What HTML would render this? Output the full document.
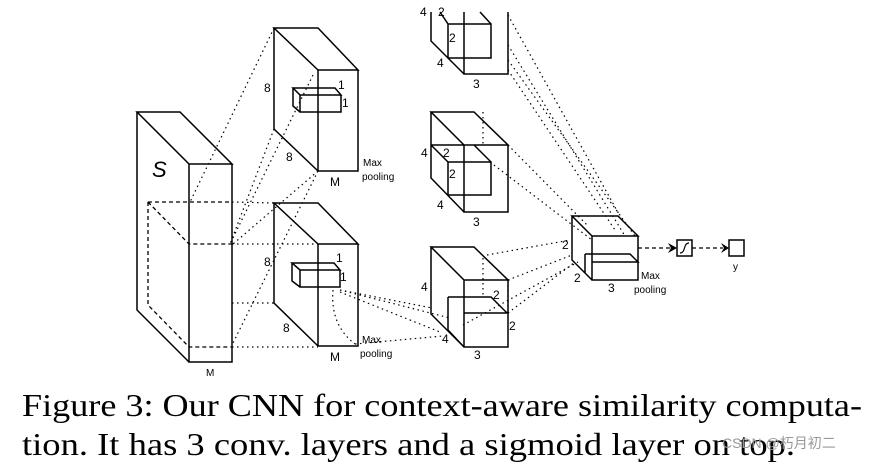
<!DOCTYPE html>
<html><head><meta charset="utf-8"><style>
html,body{margin:0;padding:0;background:#fff;width:876px;height:464px;overflow:hidden}
svg{display:block}
.s{fill:none;stroke:#000;stroke-width:1.5}
.d{fill:none;stroke:#000;stroke-width:1.2;stroke-dasharray:1.5 3.5}
.dash{fill:none;stroke:#000;stroke-width:1.3;stroke-dasharray:4 3}
text{font-family:"Liberation Sans",sans-serif;font-size:12px;fill:#000}
.sm{font-size:10px}
.cap{font-family:"Liberation Serif",serif;font-size:32px}
</style></head><body>
<svg width="876" height="464" viewBox="0 0 876 464">
<path class="s" d="M137,112 L180,112 L232,164 L189,164 Z M137,112 L137,310 L189,362 M189,164 L189,362 L232,362 L232,164"/>
<path class="dash" d="M148,202 L230,202 M148,202 L189,244 L232,244 M148,202 L148,305 L189,347 L232,347"/>
<text x="152" y="177" style="font-size:22px;font-style:italic">S</text>
<text x="206" y="376" class="sm">M</text>
<path class="d" d="M274,28 L190,202 M274,129 L230,244 M318,171 L233,244 M313,75 L230,244 M318,171 L233,343 M232,202 L274,203 M232,244 L318,244 M232,303 L274,303 M232,347 L318,347"/>
<path class="s" d="M274,28 L318,28 L358,70 L318,70 Z M274,28 L274,129 L318,171 M318,70 L318,171 L358,171 L358,70"/>
<path class="s" d="M293,88 L335,88 L341,95 L300,95 Z M293,88 L293,106 L300,112 M300,95 L300,112 L341,112 L341,95"/>
<text x="264" y="92">8</text><text x="338" y="89">1</text><text x="342" y="107">1</text>
<text x="286" y="161">8</text><text x="330" y="186">M</text>
<text x="363" y="166" class="sm">Max</text><text x="362" y="180" class="sm">pooling</text>
<path class="s" d="M274,203 L318,203 L358,244 L318,244 Z M274,203 L274,303 L318,346 M318,244 L318,346 L358,346 L358,244"/>
<path class="s" d="M292,263 L334,263 L340,270 L300,270 Z M292,263 L292,281 L300,287 M300,270 L300,287 L340,287 L340,270"/>
<text x="264" y="266">8</text><text x="336" y="262">1</text><text x="340" y="281">1</text>
<text x="283" y="332">8</text><text x="330" y="361">M</text>
<text x="362" y="343" class="sm">Max</text><text x="360" y="357" class="sm">pooling</text>
<path class="d" d="M340,290 L450,318 M340,292 L440,332 M355,344 L443,336 M333,290 Q330,325 355,344 M340,290 L432,308"/>
<path class="s" d="M431,12 L431,41 L464,74 M464,12 L464,74 L508,74 L508,12 M448,24 L491,24 L491,58 L448,58 Z M448,24 L440,12 M491,24 L480,12"/>
<text x="420" y="16">4</text><text x="438" y="16">2</text><text x="449" y="42">2</text><text x="437" y="67">4</text><text x="473" y="88">3</text>
<path class="s" d="M431,112 L474,112 L508,145 L464,145 Z M431,112 L431,178 L464,212 M464,145 L464,212 L508,212 L508,145 M431,145 L464,145 M431,145 L448,162 L491,162 L491,195 L448,195 L448,162 M474,145 L491,162"/>
<path class="d" d="M483,112 L483,145"/>
<text x="421" y="157">4</text><text x="443" y="157">2</text><text x="449" y="178">2</text><text x="437" y="209">4</text><text x="473" y="226">3</text>
<path class="s" d="M431,247 L474,247 L508,280 L464,280 Z M431,247 L431,314 L464,347 M464,280 L464,347 L508,347 L508,280 M448,297 L491,297 L507,313 L464,313 M448,297 L448,330 L464,347"/>
<path class="d" d="M483,258 L483,297 M508,280 L508,313"/>
<text x="421" y="291">4</text><text x="493" y="299">2</text><text x="509" y="330">2</text><text x="442" y="343">4</text><text x="474" y="359">3</text>
<path class="d" d="M508,15 L620,216 M508,45 L625,236 M508,60 L635,236 M508,70 L615,230 M508,145 L588,226 M490,162 L592,240 M487,255 L570,240 M508,280 L572,255 M508,313 L575,262 M463,325 L578,262"/>
<path class="s" d="M572,216 L618,216 L638,236 L592,236 Z M572,216 L572,260 L592,280 M592,236 L592,280 L638,280 L638,236 M585,254 L630,254 L638,262 L592,262 M585,254 L585,273 L592,280"/>
<text x="562" y="249">2</text><text x="574" y="282">2</text><text x="608" y="292">3</text>
<text x="641" y="279" class="sm">Max</text><text x="634" y="293" class="sm">pooling</text>
<path class="dash" d="M638,248 L670,248 M692,248 L723,248"/>
<path d="M668,243 L677,248 L668,253 L671,248 Z M721,243 L729,248 L721,253 L724,248 Z" fill="#000"/>
<rect class="s" x="677" y="240" width="15" height="16"/>
<path class="s" style="stroke-width:1.2" d="M680,253 C686,253 683,243 689,243"/>
<rect class="s" x="729" y="240" width="15" height="16"/>
<text x="733" y="270" class="sm">y</text>
<text x="22" y="416" class="cap" textLength="840" lengthAdjust="spacingAndGlyphs">Figure 3: Our CNN for context-aware similarity computa-</text>
<text x="22" y="455" class="cap" textLength="773" lengthAdjust="spacingAndGlyphs">tion. It has 3 conv. layers and a sigmoid layer on top.</text>
<text x="722" y="448" style="font-family:'Liberation Sans','Noto Sans CJK SC',sans-serif;font-size:14px;fill:#999">CSDN @朽月初二</text>
</svg>
</body></html>
